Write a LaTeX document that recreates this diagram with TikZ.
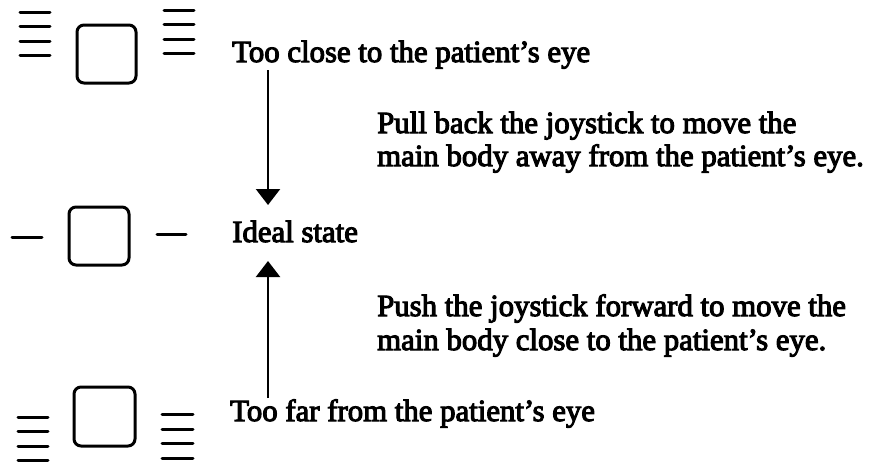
\documentclass[tikz,border=0pt]{standalone}
\usepackage{fontspec}
\setmainfont{Liberation Serif}
\newfontfamily\semifont{Liberation Serif}[FakeBold=3.5]
\usetikzlibrary{arrows.meta}
\begin{document}
\begin{tikzpicture}[x=1pt,y=-1pt,
  bar/.style={line width=3pt,line cap=round},
  lens/.style={line width=3pt,rounded corners=7pt},
  txt/.style={anchor=base west,inner sep=0pt,font=\semifont\fontsize{30.8}{31}\selectfont},
  arr/.style={line width=2.2pt,-{Triangle[width=24pt,length=16pt]}}]
\useasboundingbox (0,0) rectangle (875,461);
% top row
\foreach \y in {12,26,41,55} \draw[bar] (20,\y) -- (50,\y);
\draw[lens] (77,25) rectangle (136,83);
\foreach \y in {10,24,39,53} \draw[bar] (164,\y) -- (194,\y);
% middle row
\draw[bar] (12,237) -- (42,237);
\draw[lens] (69,207) rectangle (129,265);
\draw[bar] (157,234) -- (186,234);
% bottom row
\foreach \y in {417,431,446,460} \draw[bar] (18,\y) -- (48,\y);
\draw[lens] (74,387) rectangle (135,446);
\foreach \y in {414,429,443,458} \draw[bar] (162,\y) -- (193,\y);
% texts
\node[txt] (close) at (232,62) {Too close to the patient’s eye};
\node[txt] (pull1) at (377,133) {Pull back the joystick to move the};
\node[txt] (pull2) at (377,166) {main body away from the patient’s eye.};
\node[txt] (ideal) at (232,242) {Ideal state};
\node[txt] (push1) at (377,316) {Push the joystick forward to move the};
\node[txt] (push2) at (377,350) {main body close to the patient’s eye.};
\node[txt] (far) at (230,421) {Too far from the patient’s eye};
% arrows
\coordinate (a1) at (268,70);
\coordinate (a2) at (268,205);
\coordinate (b1) at (268,398);
\coordinate (b2) at (268,261);
\draw[arr] (a1) -- (a2);
\draw[arr] (b1) -- (b2);
\end{tikzpicture}
\end{document}
